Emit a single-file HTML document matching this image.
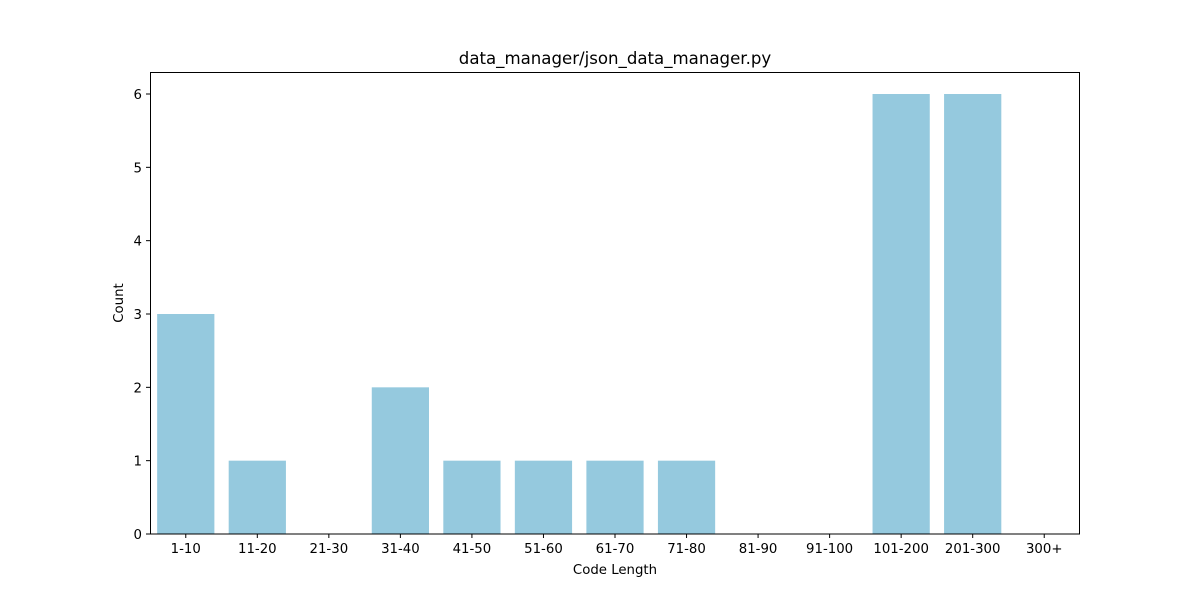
<!DOCTYPE html>
<html><head><meta charset="utf-8"><style>
body{margin:0;background:#fff;}
svg text{font-family:"DejaVu Sans","Liberation Sans",sans-serif;}
</style></head><body>
<svg id="chart" width="1200" height="600" xmlns="http://www.w3.org/2000/svg">
<rect width="1200" height="600" fill="#fff"/>
<text x="615" y="64" font-size="16.6" text-anchor="middle">data_manager/json_data_manager.py</text>
<g id="bars"></g>
<g id="xticks"></g>
<g id="yticks"></g>
<rect x="150.5" y="72.5" width="929" height="461.5" fill="none" stroke="#000" stroke-width="1"/>
<text x="615" y="574" font-size="13.3" text-anchor="middle">Code Length</text>
<text x="123" y="303" font-size="13.3" text-anchor="middle" transform="rotate(-90 123 303)">Count</text>
</svg>
<script>
const categories=["1-10","11-20","21-30","31-40","41-50","51-60","61-70","71-80","81-90","91-100","101-200","201-300","300+"];
const counts=[3,1,0,2,1,1,1,1,0,0,6,6,0];
const yTicks=[0,1,2,3,4,5,6];
const L=150,R=1080,T=72,B=534,yMax=6.3;
const step=(R-L)/categories.length;
const x=i=>L+step*(i+0.5);
const y=v=>B-(v/yMax)*(B-T);
const NS="http://www.w3.org/2000/svg";
const bars=document.getElementById('bars'),xt=document.getElementById('xticks'),yt=document.getElementById('yticks');
function mk(t,a){const e=document.createElementNS(NS,t);for(const k in a)e.setAttribute(k,a[k]);return e;}
categories.forEach((c,i)=>{
 const w=step*0.8;
 const r=mk('rect',{x:x(i)-w/2,y:y(counts[i]),width:w,height:B-y(counts[i]),fill:'#95c9de'});
 
 
 bars.appendChild(r);
 const tk=mk('line',{x1:x(i),x2:x(i),y1:B,y2:B+4,stroke:'#000'});
 
 
 xt.appendChild(tk);
 const tl=mk('text',{x:x(i),y:B+19,'font-size':13.3,'text-anchor':'middle'});
 tl.textContent=c;
 
 
 xt.appendChild(tl);
});
yTicks.forEach(v=>{
 const tk=mk('line',{x1:L-4,x2:L,y1:y(v),y2:y(v),stroke:'#000'});
 
 
 yt.appendChild(tk);
 const tl=mk('text',{x:L-8,y:y(v)+5,'font-size':13.3,'text-anchor':'end'});
 tl.textContent=v;
 
 
 yt.appendChild(tl);
});
</script>
</body></html>
